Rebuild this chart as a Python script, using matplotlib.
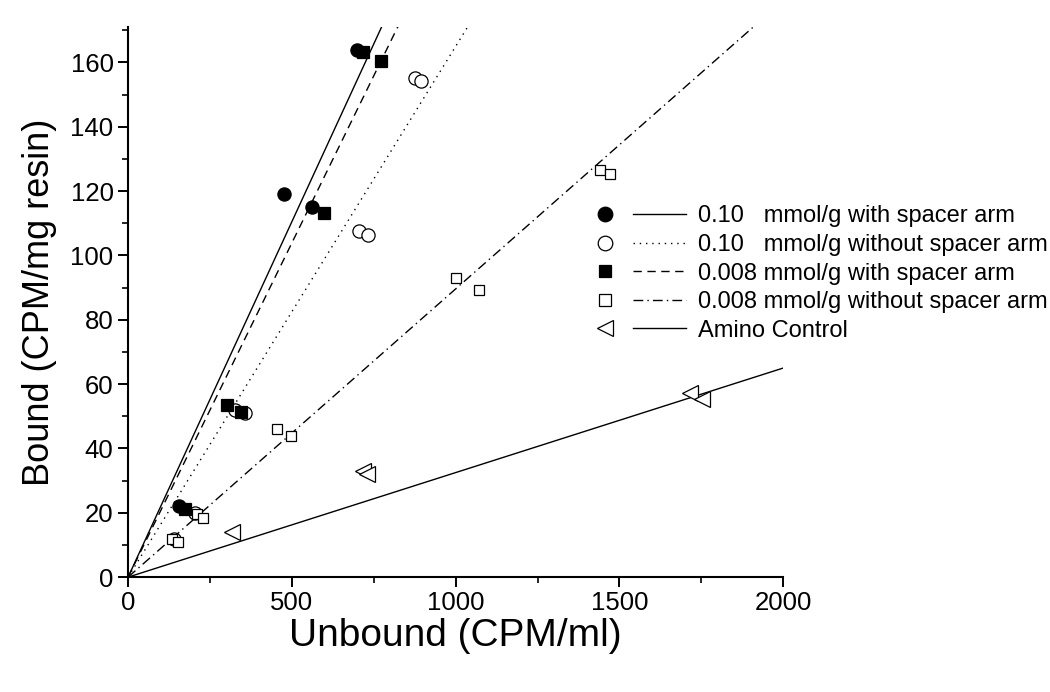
import numpy as np
import matplotlib.pyplot as plt
from matplotlib.lines import Line2D
from matplotlib.legend_handler import HandlerTuple

plt.rcParams['font.family'] = ['Liberation Sans', 'DejaVu Sans']

# data (unbound CPM/ml, bound CPM/mg resin)
s1_x = [156, 476, 562, 699]
s1_y = [22.1, 119.2, 114.9, 163.7]
s2_x = [140, 205, 327, 357, 705, 733, 877, 893]
s2_y = [12.0, 20.0, 52.0, 51.0, 107.7, 106.4, 155.0, 154.2]
s3_x = [174, 302, 345, 598, 717, 772]
s3_y = [21.2, 53.5, 51.4, 113.3, 163.1, 160.3]
s4_x = [134, 153, 211, 229, 455, 498, 1001, 1072, 1441, 1472]
s4_y = [11.8, 10.9, 19.6, 18.4, 46.1, 43.9, 93.1, 89.3, 126.7, 125.4]
s5_x = [317, 717, 730, 1716, 1752]
s5_y = [14.0, 33.0, 32.0, 57.3, 55.4]

# slopes of the fitted lines through the origin
slopes = [0.221, 0.165, 0.2078, 0.0896, 0.0325]
labels = ['0.10   mmol/g with spacer arm',
          '0.10   mmol/g without spacer arm',
          '0.008 mmol/g with spacer arm',
          '0.008 mmol/g without spacer arm',
          'Amino Control']

line_styles = ['-', (0, (1, 3.5)), (0, (6, 4)), (0, (7, 3, 1, 3)), '-']
markers = ['o', 'o', 's', 's', '<']
faces = ['black', 'white', 'black', 'white', 'white']
msizes = [9.5, 9.5, 8.5, 7.8, 11]
leg_sizes = [10.5, 10.5, 9, 8.5, 11]
xs = [s1_x, s2_x, s3_x, s4_x, s5_x]
ys = [s1_y, s2_y, s3_y, s4_y, s5_y]

fig = plt.figure(figsize=(10.5, 6.92), dpi=100)
ax = fig.add_axes([0.122, 0.166, 0.624, 0.795])

xline = np.array([0, 2000])
order = [1, 3, 4, 0, 2]  # open markers first, filled ones on top
for i in order:
    ax.plot(xline, slopes[i] * xline, color='black', lw=1.0,
            linestyle=line_styles[i], zorder=2)
    ax.plot(xs[i], ys[i], linestyle='none', marker=markers[i],
            markersize=msizes[i], markerfacecolor=faces[i],
            markeredgecolor='black', markeredgewidth=0.9, zorder=3)

handles = []
for i in range(5):
    mk = Line2D([], [], linestyle='none', marker=markers[i],
                markersize=leg_sizes[i], markerfacecolor=faces[i],
                markeredgecolor='black', markeredgewidth=0.9)
    ln = Line2D([], [], color='black', lw=1.0, linestyle=line_styles[i])
    handles.append((mk, ln))

ax.legend(handles, labels, handler_map={tuple: HandlerTuple(ndivide=2, pad=0.06)},
          loc='upper left', bbox_to_anchor=(0.542, 0.717),
          bbox_transform=fig.transFigure, frameon=False,
          handlelength=4.55, handletextpad=0.5, labelspacing=0.28,
          borderaxespad=0, borderpad=0.4, prop={'size': 17})

ax.set_xlim(0, 2000)
ax.set_ylim(0, 171)
ax.set_xticks([0, 500, 1000, 1500, 2000])
ax.set_xticks([250, 750, 1250, 1750], minor=True)
ax.set_yticks(np.arange(0, 161, 20))
ax.set_yticks(np.arange(10, 171, 20), minor=True)

for side in ['top', 'right']:
    ax.spines[side].set_visible(False)
for side in ['left', 'bottom']:
    ax.spines[side].set_linewidth(1.5)

ax.tick_params(which='major', direction='out', length=7, width=1.4,
               labelsize=18.5)
ax.tick_params(which='minor', direction='out', length=4, width=1.2)
ax.tick_params(axis='x', pad=3)

ax.set_xlabel('Unbound (CPM/ml)', fontsize=28, labelpad=2)
ax.set_ylabel('Bound (CPM/mg resin)', fontsize=26, labelpad=10)

fig.savefig('out.png', dpi=100)
